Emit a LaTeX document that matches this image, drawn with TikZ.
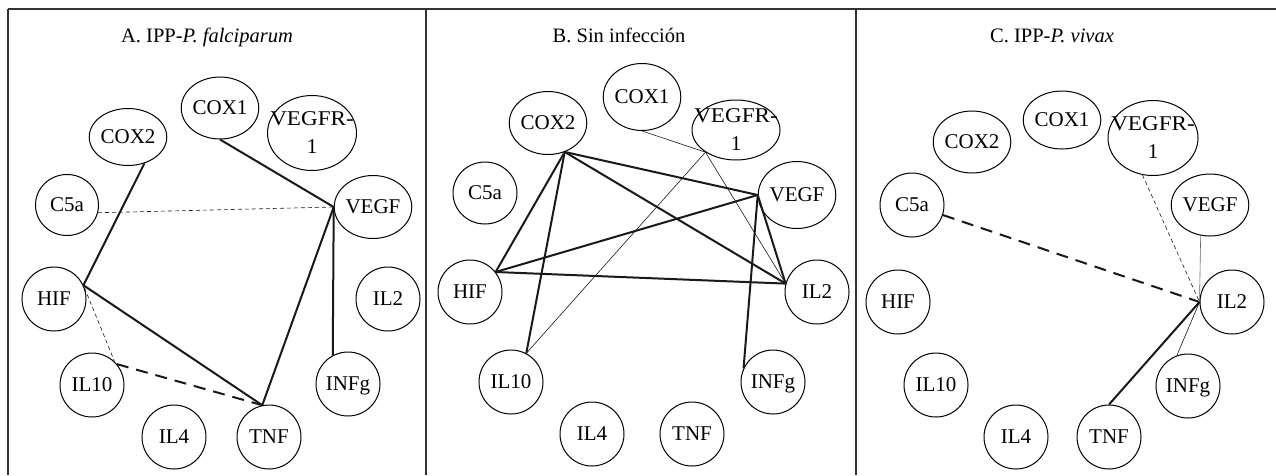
\documentclass[tikz,border=0pt]{standalone}
\usepackage{fontspec}
\setmainfont{Liberation Serif}
\usetikzlibrary{shapes.geometric}
\newcommand{\rone}{\makebox[0pt]{\scalebox{1.1}[1]{VEGFR-}}\\1}

\begin{document}
\begin{tikzpicture}[x=1pt, y=-1pt,
	gen/.style={draw, ellipse, line width=1pt, inner sep=0pt, minimum width=64pt, minimum height=64pt, font=\fontsize{21}{28}\selectfont, align=center},
	ttl/.style={font=\fontsize{20.5}{24}\selectfont, anchor=base},
	strong/.style={line width=2pt, black!90},
	weak/.style={line width=0.6pt, black!90},
	strongdash/.style={strong, dash pattern=on 12pt off 8pt},
	weakdash/.style={weak, dash pattern=on 4pt off 3pt}]% {{{ redes
	\useasboundingbox (0,0) rectangle (1276,475);
	\draw[line width=1.5pt, black!80] (8,9) -- (1276,9);
	\draw[line width=1.2pt, black!80] (8,9) -- (8,475);
	\draw[line width=1.2pt, black!80] (426,9) -- (426,475);
	\draw[line width=1.2pt, black!80] (856,9) -- (856,475);

	% A
	\node[ttl] (a-title) at (207,42){A. IPP-\textit{P. falciparum}};
	\node[gen, minimum width=77pt, minimum height=62pt] (a-cox1) at (220,108){COX1};
	\node[gen, minimum width=89pt, minimum height=75pt] (a-vegfr1) at (312,133){\rone};
	\node[gen, minimum width=74pt, minimum height=57pt] (a-cox2) at (128,137){COX2};
	\node[gen, minimum width=63pt, minimum height=61pt] (a-c5a) at (67,205){C5a};
	\node[gen, minimum width=77pt, minimum height=63pt] (a-vegf) at (373,207){VEGF};
	\node[gen, text depth=0pt] (a-hif) at (54,299){HIF};
	\node[gen, text depth=0pt] (a-il2) at (388,299){IL2};
	\node[gen, text depth=0pt] (a-il10) at (92,385){IL10};
	\node[gen, text depth=0pt] (a-infg) at (348,384){INFg};
	\node[gen, text depth=0pt] (a-il4) at (174,437){IL4};
	\node[gen, text depth=0pt] (a-tnf) at (269,437){TNF};

	\draw[strong] (a-cox2.-58) -- (a-hif.25);
	\draw[strong] (a-cox1.south) -- (a-vegf.west);
	\draw[weakdash] (a-c5a.-14) -- (a-vegf.west);
	\draw[strong] (a-vegf.west) -- (a-tnf.102);
	\draw[strong] (a-vegf.west) -- (a-infg.118);
	\draw[strong] (a-hif.25) -- (a-tnf.102);
	\draw[weakdash] (a-hif.20) -- (a-il10.46);
	\draw[strongdash] (a-il10.40) -- (a-tnf.102);

	% B
	\node[ttl] (b-title) at (619,42){B. Sin infección};
	\node[gen, minimum width=77pt, minimum height=67pt] (b-cox1) at (642,97){COX1};
	\node[gen, minimum width=88pt, minimum height=60pt] (b-vegfr1) at (736,130){\rone};
	\node[gen, minimum width=77pt, minimum height=63pt] (b-cox2) at (548,123){COX2};
	\node[gen, minimum width=64pt, minimum height=62pt] (b-c5a) at (485,193){C5a};
	\node[gen, minimum width=70pt, minimum height=67pt] (b-vegf) at (797,195){VEGF};
	\node[gen, text depth=0pt] (b-hif) at (470,292){HIF};
	\node[gen, text depth=0pt] (b-il2) at (817,292){IL2};
	\node[gen, text depth=0pt] (b-il10) at (511,382){IL10};
	\node[gen, text depth=0pt] (b-infg) at (773,382){INFg};
	\node[gen, text depth=0pt] (b-il4) at (592,434){IL4};
	\node[gen, text depth=0pt] (b-tnf) at (692,434){TNF};

	\draw[weak] (b-cox1.south) -- (b-vegfr1.-144);
	\draw[weak] (b-vegfr1.-144) -- (b-il10.62);
	\draw[weak] (b-vegfr1.-144) -- (b-il2.165);
	\draw[strong] (b-cox2.-60) -- (b-hif.38);
	\draw[strong] (b-cox2.-60) -- (b-il10.62);
	\draw[strong] (b-cox2.-60) -- (b-vegf.west);
	\draw[strong] (b-cox2.-60) -- (b-il2.165);
	\draw[strong] (b-hif.38) -- (b-vegf.west);
	\draw[strong] (b-hif.38) -- (b-il2.165);
	\draw[strong] (b-vegf.west) -- (b-il2.165);
	\draw[strong] (b-vegf.west) -- (b-infg.155);

	% C
	\node[ttl] (c-title) at (1052,42){C. IPP-\textit{P. vivax}};
	\node[gen, minimum width=77pt, minimum height=58pt] (c-cox1) at (1062,120){COX1};
	\node[gen, minimum width=90pt, minimum height=75pt] (c-vegfr1) at (1153,138){\rone};
	\node[gen, minimum width=77pt, minimum height=62pt] (c-cox2) at (972,142){COX2};
	\node[gen] (c-c5a) at (912,205){C5a};
	\node[gen, minimum width=77pt, minimum height=62pt] (c-vegf) at (1210,205){VEGF};
	\node[gen, text depth=0pt] (c-hif) at (898,302){HIF};
	\node[gen, text depth=0pt] (c-il2) at (1232,302){IL2};
	\node[gen, text depth=0pt] (c-il10) at (936,385){IL10};
	\node[gen, text depth=0pt] (c-infg) at (1188,386){INFg};
	\node[gen, text depth=0pt] (c-il4) at (1016,437){IL4};
	\node[gen, text depth=0pt] (c-tnf) at (1109,437){TNF};

	\draw[strongdash] (c-c5a.-18) -- (c-il2.west);
	\draw[weakdash] (c-vegfr1.-106) -- (c-il2.west);
	\draw[weak, black!60] (c-vegf.-107) -- (c-il2.west);
	\draw[strong] (c-il2.west) -- (c-tnf.north);
	\draw[weak] (c-il2.west) -- (c-infg.110);
\end{tikzpicture}
\end{document}
